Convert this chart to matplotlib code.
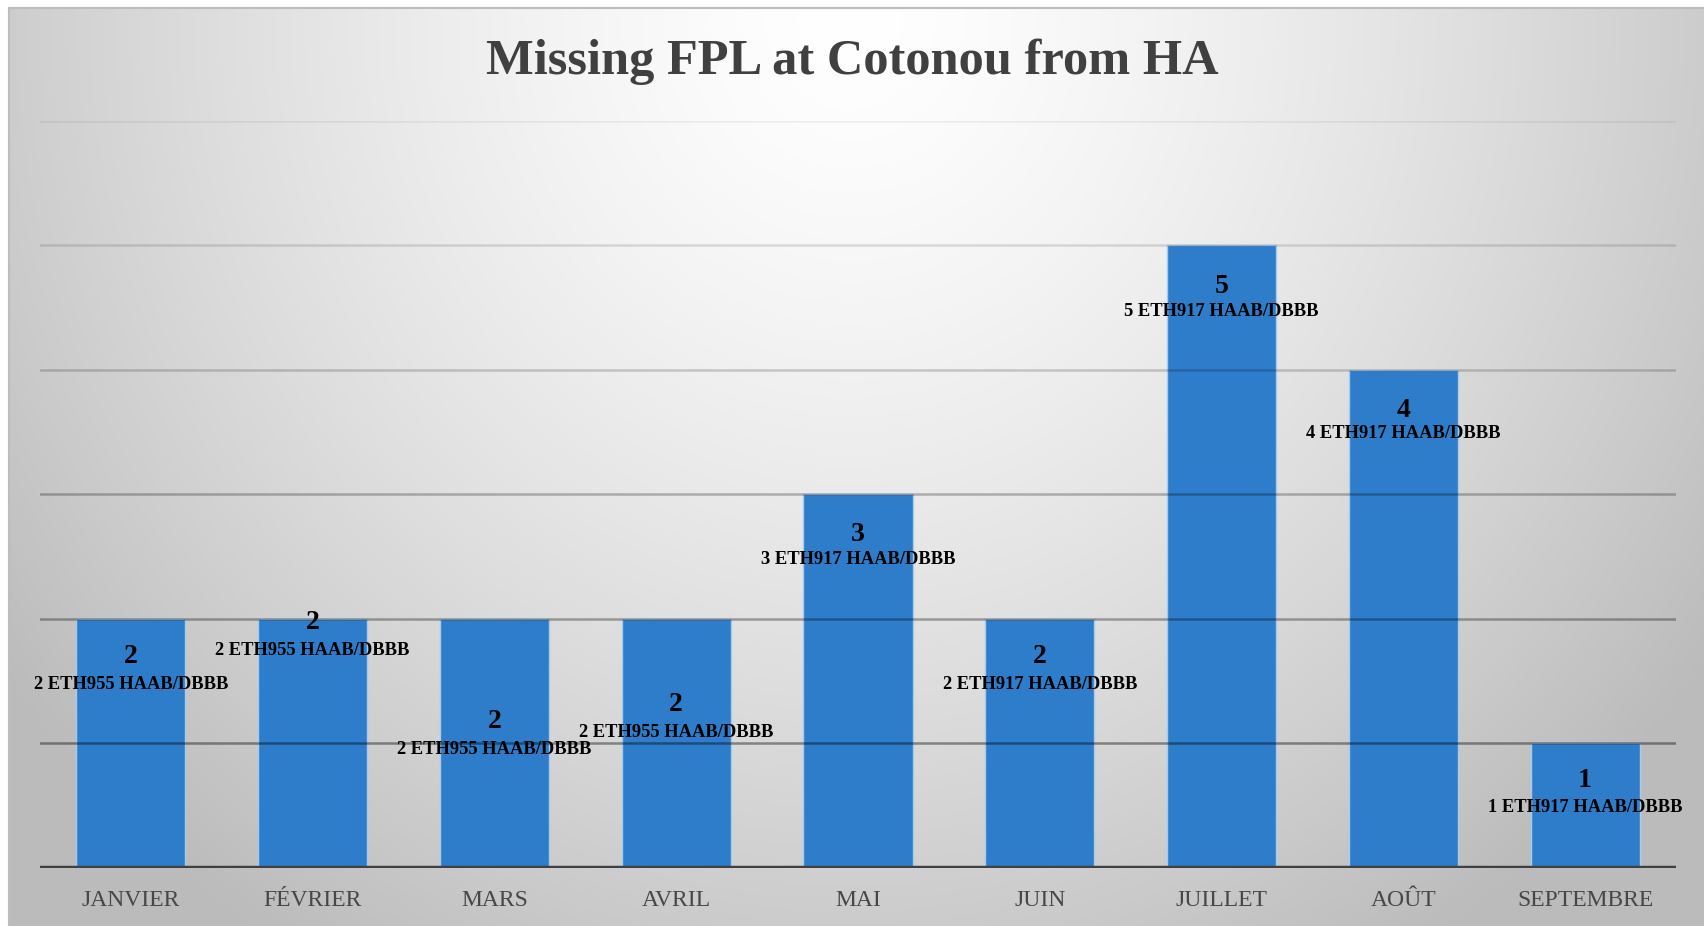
import numpy as np
import matplotlib
matplotlib.use("Agg")
import matplotlib.pyplot as plt
from matplotlib.patches import Rectangle

# ---- data ----
months = ["JANVIER", "FÉVRIER", "MARS", "AVRIL", "MAI", "JUIN", "JUILLET", "AOÛT", "SEPTEMBRE"]
counts = [2, 2, 2, 2, 3, 2, 5, 4, 1]
flights = ["ETH955", "ETH955", "ETH955", "ETH955", "ETH917", "ETH917", "ETH917", "ETH917", "ETH917"]
route = "HAAB/DBBB"
title = "Missing FPL at Cotonou from HA"

# label placement (data-y of value label and of description label)
value_label_y = [1.70, 1.97, 1.18, 1.31, 2.68, 1.70, 4.67, 3.67, 0.70]
desc_label_y = [1.475, 1.745, 0.955, 1.085, 2.475, 1.475, 4.465, 3.485, 0.485]

W, H = 1704, 926
fig = plt.figure(figsize=(W / 100, H / 100), dpi=100, facecolor="white")

# background radial gradient
x0 = 9 / W
y1 = 1 - 8 / H
bg = fig.add_axes([x0, 0, 1 - x0, y1], zorder=-10)
bg.set_axis_off()
xs = np.linspace(9, W, 600)
ys = np.linspace(8, H, 400)
X, Y = np.meshgrid(xs, ys)
cx, cy = 850, 20
r = np.sqrt(((X - cx) / 950) ** 2 + ((Y - cy) / 1000) ** 2)
v = 1 - 0.23 * np.clip(r, 0, 1.1) ** 1.4
img = np.dstack([v, v, v])
bg.imshow(img, aspect="auto", extent=[0, 1, 0, 1], origin="upper")
bg.set_xlim(0, 1)
bg.set_ylim(0, 1)
fig.patches.append(Rectangle((x0, -0.01), 1.01 - x0, y1 + 0.01, transform=fig.transFigure,
                             fill=False, edgecolor="#BDBDBD", linewidth=1.5, zorder=-5))

# main axes
left = 40 / W
right = 1676 / W
bottom = 1 - 868 / H
top = 1 - 120.6 / H
ax = fig.add_axes([left, bottom, right - left, top - bottom])
ax.set_facecolor("none")
x = np.arange(len(months))
ax.bar(x, counts, width=0.6, color="#2E7DCA", edgecolor="#A9CBEA", linewidth=1.0, zorder=2)
ax.set_xlim(-0.5, len(months) - 0.5)
ax.set_ylim(0, 6)

# gridlines (darker toward bottom)
for lvl, a in zip([1, 2, 3, 4, 5, 6], [0.40, 0.32, 0.26, 0.18, 0.12, 0.06]):
    ax.axhline(lvl, color="black", alpha=a, linewidth=1.8, zorder=3)
ax.axhline(0, color="#404040", linewidth=3.2, zorder=4)

for s in ax.spines.values():
    s.set_visible(False)
ax.set_yticks([])
ax.set_xticks(x)
ax.set_xticklabels(months, fontsize=17, color="#474747", family="Liberation Serif")
ax.tick_params(axis="x", length=0, pad=16)

for i in range(len(months)):
    ax.text(x[i], value_label_y[i], str(counts[i]), ha="center", va="center",
            fontsize=20, fontweight="bold", family="Liberation Serif", color="black", zorder=5)
    ax.text(x[i], desc_label_y[i], f"{counts[i]} {flights[i]} {route}", ha="center", va="center",
            fontsize=13.3, fontweight="bold", family="Liberation Serif", color="black", zorder=5)

fig.text(0.5, 1 - 62 / H, title, ha="center", va="center", fontsize=36.4, fontweight="bold",
         family="Liberation Serif", color="#404040")

fig.savefig("out.png", dpi=100, facecolor="white")
